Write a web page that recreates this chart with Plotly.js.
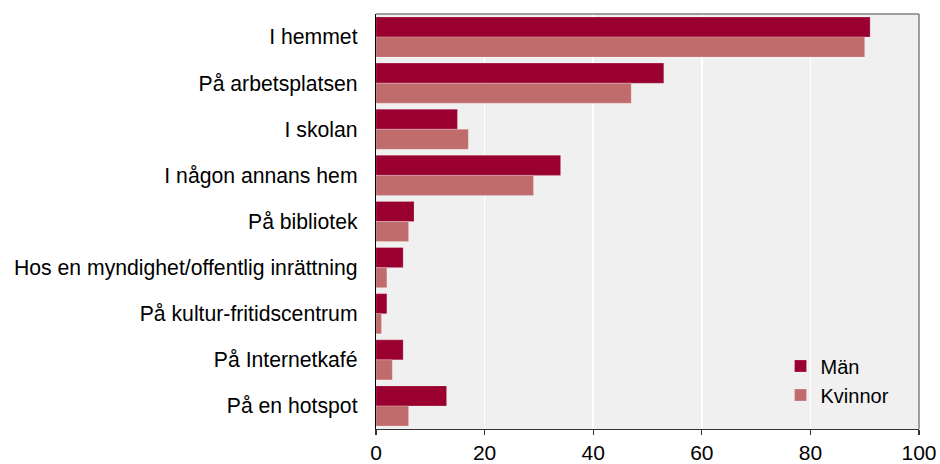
<!DOCTYPE html>
<html>
<head>
<meta charset="utf-8">
<script src="https://cdn.plot.ly/plotly-3.0.1.min.js"></script>
<style>html,body{margin:0;padding:0;background:#fff;}#chart{width:940px;height:464px;}</style>
</head>
<body>
<div id="chart"></div>
<script>
const categories = [
  "I hemmet",
  "På arbetsplatsen",
  "I skolan",
  "I någon annans hem",
  "På bibliotek",
  "Hos en myndighet/offentlig inrättning",
  "På kultur-fritidscentrum",
  "På Internetkafé",
  "På en hotspot"
];
const man = [91, 53, 15, 34, 7, 5, 2, 5, 13];
const kvinnor = [90, 47, 17, 29, 6, 2, 1, 3, 6];
const seriesNames = ["Män", "Kvinnor"];
const xTicks = [0, 20, 40, 60, 80, 100];

const font = "Arial, 'Liberation Sans', sans-serif";
const traces = [
  {type: "bar", orientation: "h", name: seriesNames[0], y: categories, x: man,
   marker: {color: "#990030", line: {color: "rgba(255,255,255,0.35)", width: 0.6}}, legendgroup: "a"},
  {type: "bar", orientation: "h", name: seriesNames[1], y: categories, x: kvinnor,
   marker: {color: "#C06C6C", line: {color: "rgba(255,255,255,0.35)", width: 0.6}}, legendgroup: "b"}
];
const layout = {
  width: 940, height: 464,
  margin: {l: 376, r: 21, t: 14, b: 35, pad: 0},
  paper_bgcolor: "#ffffff",
  plot_bgcolor: "#F0F0F0",
  font: {family: font, size: 21, color: "#000"},
  barmode: "group",
  bargap: 0.13,
  bargroupgap: 0,
  showlegend: true,
  legend: {x: 0.745, y: 0.035, xanchor: "left", yanchor: "bottom", bgcolor: "rgba(0,0,0,0)",
           font: {family: font, size: 20, color: "#000"}, tracegroupgap: 10, traceorder: "normal"},
  xaxis: {range: [0, 100], tickvals: xTicks, ticktext: xTicks.map(String),
          showgrid: true, gridcolor: "#ffffff", gridwidth: 1.5, zeroline: false,
          showline: true, linecolor: "#333333", linewidth: 1.2,
          ticks: "outside", ticklen: 5, tickcolor: "#333333", tickwidth: 1.2,
          tickfont: {family: font, size: 21, color: "#000"}, fixedrange: true},
  yaxis: {autorange: "reversed", type: "category",
          showgrid: false, zeroline: false,
          showline: true, linecolor: "#000000", linewidth: 1.2,
          ticks: "", ticklabelstandoff: 13,
          tickfont: {family: font, size: 21.2, color: "#000"}, fixedrange: true},
  shapes: [
    {type: "line", xref: "paper", yref: "paper", x0: 0, x1: 1, y0: 1, y1: 1, line: {color: "#808080", width: 1.5}},
    {type: "line", xref: "paper", yref: "paper", x0: 1, x1: 1, y0: 0, y1: 1, line: {color: "#808080", width: 1.5}}
  ]
};
Plotly.newPlot("chart", traces, layout, {displayModeBar: false, staticPlot: true});
</script>
</body>
</html>
